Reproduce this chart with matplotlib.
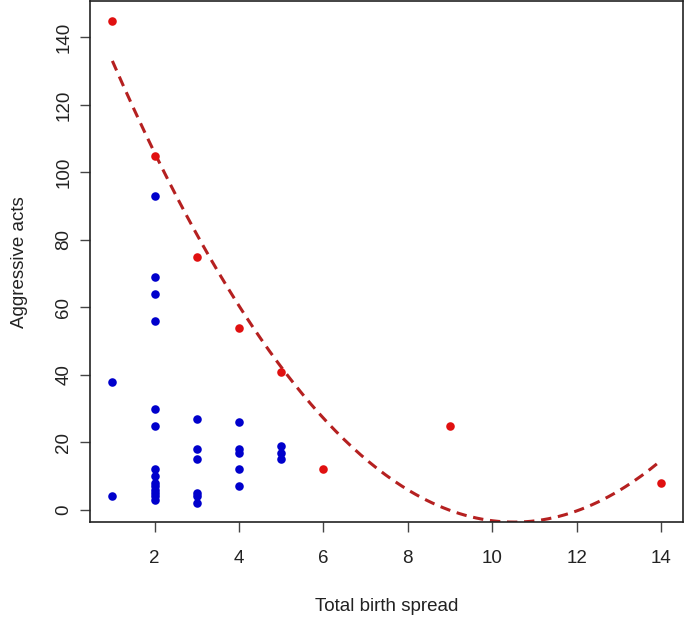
"""Aggressive acts vs total birth spread, with quadratic fit of the outlier group."""
import matplotlib

matplotlib.use("Agg")
import matplotlib.pyplot as plt
import numpy as np

# blue group
blue_x = [1, 1,
          2, 2, 2, 2, 2, 2, 2, 2, 2, 2, 2, 2, 2, 2,
          3, 3, 3, 3, 3, 3,
          4, 4, 4, 4, 4,
          5, 5, 5]
blue_y = [38, 4,
          93, 69, 64, 56, 30, 25, 12, 10, 8, 7, 6, 5, 4, 3,
          27, 18, 15, 5, 4, 2,
          26, 18, 17, 12, 7,
          19, 17, 15]

# red group (fitted with a quadratic)
red_x = [1, 2, 3, 4, 5, 6, 9, 14]
red_y = [145, 105, 75, 54, 41, 12, 25, 8]

x_ticks = [2, 4, 6, 8, 10, 12, 14]
y_ticks = [0, 20, 40, 60, 80, 100, 120, 140]

plt.rcParams["font.family"] = ["Liberation Sans", "DejaVu Sans"]

fig = plt.figure(figsize=(6.85, 6.19), dpi=100)
ax = fig.add_axes([0.132, 0.156, 0.865, 0.842])

ax.scatter(blue_x, blue_y, s=38, color="#0000cc", zorder=3, linewidths=0)
ax.scatter(red_x, red_y, s=38, color="#e01010", zorder=3, linewidths=0)

coef = np.polyfit(red_x, red_y, 2)
xs = np.linspace(min(red_x), max(red_x), 200)
ax.plot(xs, np.polyval(coef, xs), color="#b52020", lw=2.2,
        dashes=(3.4, 2.2), zorder=2)

ax.set_xlim(0.48, 14.52)
ax.set_ylim(-3.72, 150.72)
ax.set_xticks(x_ticks)
ax.set_yticks(y_ticks)
ax.tick_params(axis="both", length=7, width=1, color="#444444",
               labelsize=13.5, labelcolor="#222222")
ax.tick_params(axis="x", pad=13)
ax.tick_params(axis="y", pad=6)
for lab in ax.get_yticklabels():
    lab.set_rotation(90)
    lab.set_va("center")

for sp in ax.spines.values():
    sp.set_color("#222222")
    sp.set_linewidth(1.2)

ax.set_xlabel("Total birth spread", fontsize=13.5, color="#222222", labelpad=22)
ax.set_ylabel("Aggressive acts", fontsize=13.5, color="#222222", labelpad=20)

fig.savefig("out.png", dpi=100)
plt.close(fig)
